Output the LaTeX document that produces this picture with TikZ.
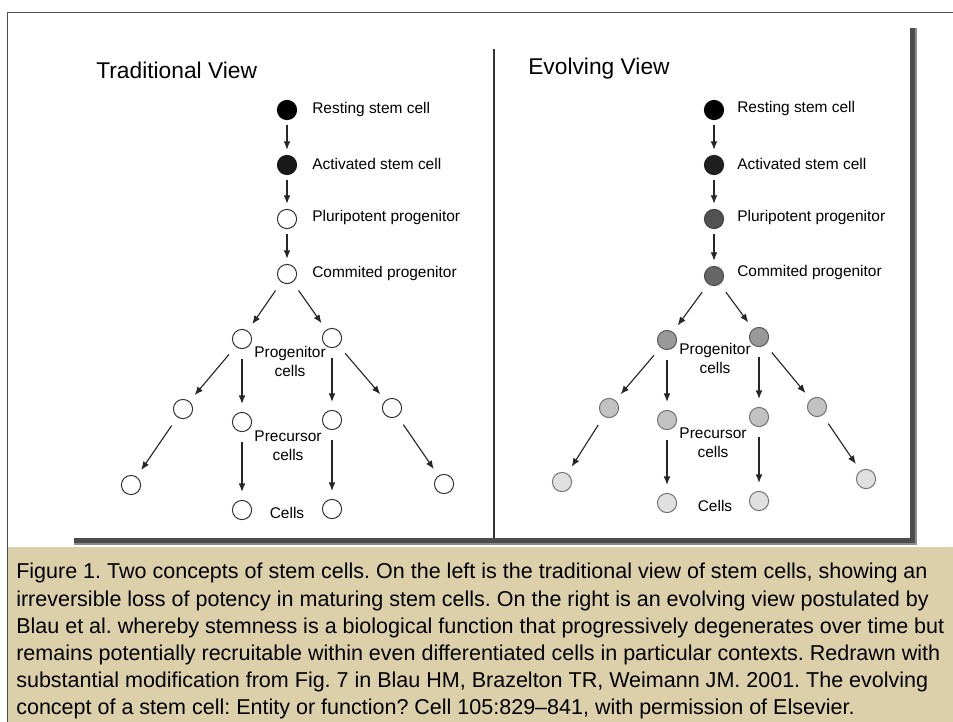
\documentclass[tikz,border=0pt]{standalone}
\usepackage{fontspec}
\setmainfont{Liberation Sans}
\usetikzlibrary{arrows.meta}
\definecolor{captionbg}{RGB}{220,208,170}
\begin{document}
\begin{tikzpicture}[x=0.025cm, y=-0.025cm,
  cell/.style={circle, draw=black!80, line width=0.7pt, minimum size=0.48cm, inner sep=0pt, fill=white},
  lbl/.style={anchor=base west, inner sep=0pt, font=\fontsize{11}{13}\selectfont},
  title/.style={anchor=base west, inner sep=0pt, font=\fontsize{16.2}{19}\selectfont},
  group/.style={anchor=north, inner sep=0pt, align=center, font=\fontsize{11}{13.5}\selectfont},
  caption/.style={anchor=north west, inner sep=0pt, align=left, font=\fontsize{15.3}{19.3}\selectfont\frenchspacing},
  arrow/.style={-{Latex[length=6pt,width=4.8pt]}, line width=0.8pt, draw=black!85, shorten <=0.13cm, shorten >=0.13cm},
  branch/.style={arrow, shorten <=0.25cm, shorten >=0.2cm}
]
\useasboundingbox[fill=white] (0,0) rectangle (953,722);
% frame, caption box and panel
\fill[captionbg] (7,547) rectangle (953,722);
\draw[black!70, line width=0.7pt] (7,722) -- (7,12) -- (953,12);
\fill[black!45] (74,28) rectangle (917,545);
\fill[black!70] (74,28) rectangle (915,543);
\fill[white] (70,25) rectangle (910,538);
\draw[black!80, line width=1pt] (494,49) -- (494,538);

% traditional view
\node[title] (ttitle) at (96,79) {Traditional View};
\node[cell, fill=black, draw=black] (tRest) at (287,110) {};
\node[cell, fill=black!90, draw=black!90] (tAct) at (287,165) {};
\node[cell] (tPluri) at (287,219) {};
\node[cell] (tComm) at (287,274) {};
\node[lbl] (tRestL) at (312,114) {Resting stem cell};
\node[lbl] (tActL) at (312,170) {Activated stem cell};
\node[lbl] (tPluriL) at (312,222) {Pluripotent progenitor};
\node[lbl] (tCommL) at (312,277) {Commited progenitor};
\node[cell] (tP1) at (242,339) {};
\node[cell] (tP2) at (332,338) {};
\node[cell] (tQ1) at (183,409) {};
\node[cell] (tQ2) at (242,422) {};
\node[cell] (tQ3) at (332,420) {};
\node[cell] (tQ4) at (392,408) {};
\node[cell] (tC1) at (131,485) {};
\node[cell] (tC2) at (242,510) {};
\node[cell] (tC3) at (332,509) {};
\node[cell] (tC4) at (444,484) {};
\node[group] (tPL) at (290,346) {Progenitor\\cells};
\node[group] (tQL) at (288,431) {Precursor\\cells};
\node[group] (tCL) at (287,507) {Cells};
\draw[arrow] (tRest) -- (tAct);
\draw[arrow] (tAct) -- (tPluri);
\draw[arrow] (tPluri) -- (tComm);
\draw[branch] (tComm) -- (tP1);
\draw[branch] (tComm) -- (tP2);
\draw[branch] (tP1) -- (tQ1);
\draw[branch] (tP1) -- (tQ2);
\draw[branch] (tP2) -- (tQ3);
\draw[branch] (tP2) -- (tQ4);
\draw[branch] (tQ1) -- (tC1);
\draw[branch] (tQ2) -- (tC2);
\draw[branch] (tQ3) -- (tC3);
\draw[branch] (tQ4) -- (tC4);

% evolving view
\node[title] (etitle) at (528,75) {Evolving View};
\node[cell, fill=black, draw=black] (eRest) at (714,110) {};
\node[cell, fill=black!88, draw=black!88] (eAct) at (714,165) {};
\node[cell, fill=black!68, draw=black!75] (ePluri) at (714,219) {};
\node[cell, fill=black!60, draw=black!70] (eComm) at (714,276) {};
\node[lbl] (eRestL) at (737,113) {Resting stem cell};
\node[lbl] (eActL) at (737,170) {Activated stem cell};
\node[lbl] (ePluriL) at (737,221) {Pluripotent progenitor};
\node[lbl] (eCommL) at (737,276) {Commited progenitor};
\node[cell, fill=black!40, draw=black!65] (eP1) at (667,340) {};
\node[cell, fill=black!40, draw=black!65] (eP2) at (759,337) {};
\node[cell, fill=black!24, draw=black!55] (eQ1) at (609,408) {};
\node[cell, fill=black!24, draw=black!55] (eQ2) at (667,420) {};
\node[cell, fill=black!24, draw=black!55] (eQ3) at (759,417) {};
\node[cell, fill=black!24, draw=black!55] (eQ4) at (817,407) {};
\node[cell, fill=black!12, draw=black!55] (eC1) at (562,482) {};
\node[cell, fill=black!12, draw=black!55] (eC2) at (667,503) {};
\node[cell, fill=black!12, draw=black!55] (eC3) at (759,501) {};
\node[cell, fill=black!12, draw=black!55] (eC4) at (866,479) {};
\node[group] (ePL) at (715,343) {Progenitor\\cells};
\node[group] (eQL) at (713,428) {Precursor\\cells};
\node[group] (eCL) at (715,500) {Cells};
\draw[arrow] (eRest) -- (eAct);
\draw[arrow] (eAct) -- (ePluri);
\draw[arrow] (ePluri) -- (eComm);
\draw[branch] (eComm) -- (eP1);
\draw[branch] (eComm) -- (eP2);
\draw[branch] (eP1) -- (eQ1);
\draw[branch] (eP1) -- (eQ2);
\draw[branch] (eP2) -- (eQ3);
\draw[branch] (eP2) -- (eQ4);
\draw[branch] (eQ1) -- (eC1);
\draw[branch] (eQ2) -- (eC2);
\draw[branch] (eQ3) -- (eC3);
\draw[branch] (eQ4) -- (eC4);

% caption
\node[caption] (captext) at (16,563) {Figure 1. Two concepts of stem cells. On the left is the traditional view of stem cells, showing an\\
irreversible loss of potency in maturing stem cells. On the right is an evolving view postulated by\\
Blau et al. whereby stemness is a biological function that progressively degenerates over time but\\
remains potentially recruitable within even differentiated cells in particular contexts. Redrawn with\\
substantial modification from Fig. 7 in Blau HM, Brazelton TR, Weimann JM. 2001. The evolving\\
concept of a stem cell: Entity or function? Cell 105:829–841, with permission of Elsevier.};
\end{tikzpicture}
\end{document}
